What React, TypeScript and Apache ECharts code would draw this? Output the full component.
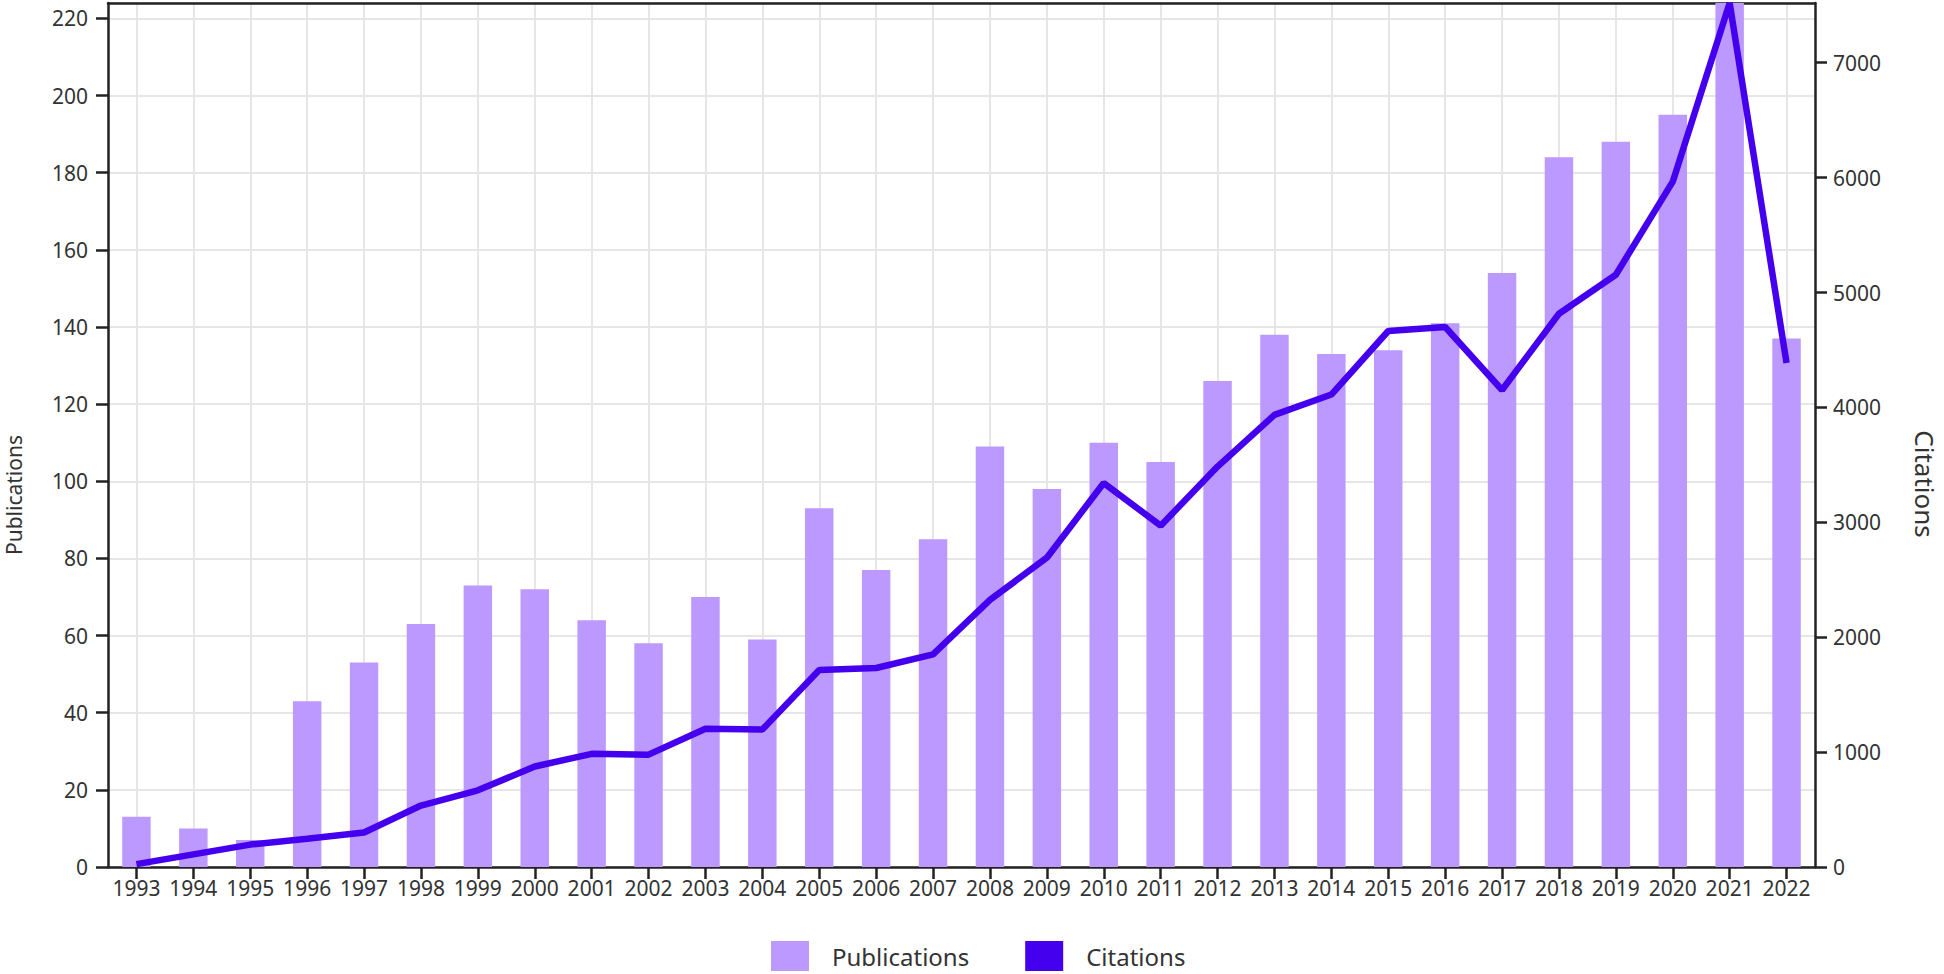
import React, { useEffect, useRef } from 'react';
import * as echarts from 'echarts';

const years = ['1993','1994','1995','1996','1997','1998','1999','2000','2001','2002','2003','2004','2005','2006','2007','2008','2009','2010','2011','2012','2013','2014','2015','2016','2017','2018','2019','2020','2021','2022'];
const publications = [13, 10, 7, 43, 53, 63, 73, 72, 64, 58, 70, 59, 93, 77, 85, 109, 98, 110, 105, 126, 138, 133, 134, 141, 154, 184, 188, 195, 224, 137];
const citations = [25, 110, 195, 245, 300, 535, 667, 875, 985, 978, 1203, 1197, 1715, 1732, 1850, 2325, 2692, 3342, 2971, 3485, 3935, 4112, 4665, 4700, 4152, 4815, 5155, 5965, 7520, 4386];
const leftAxisMax = 224;
const rightAxisMax = 7520;

export default function App() {
  const ref = useRef<HTMLDivElement>(null);
  useEffect(() => {
    document.body.style.margin = '0';
    const chart = echarts.init(ref.current!, null, { renderer: 'svg' });
    const font = '"Noto Sans", "Open Sans", sans-serif';
    const axisColor = '#222';
    const textColor = '#333';
    const axisLine = { show: true, onZero: false, lineStyle: { color: axisColor, width: 2.5 } };
    const axisTick = { show: true, length: 12, lineStyle: { color: axisColor, width: 2.5 } };
    chart.setOption({
      animation: false,
      grid: { left: 108, right: 129, top: 3, bottom: 107 },
      legend: {
        left: 766,
        top: 936,
        icon: 'rect',
        itemWidth: 38,
        itemHeight: 30,
        itemGap: 56,
        textStyle: { fontSize: 24, color: textColor, fontFamily: font, padding: [0, 0, 0, 18] },
        data: ['Publications', 'Citations'],
      },
      xAxis: [
        {
          type: 'category',
          data: years,
          position: 'bottom',
          boundaryGap: true,
          axisLine,
          axisTick: { ...axisTick, alignWithLabel: true },
          axisLabel: { color: textColor, fontSize: 21, fontFamily: font, margin: 10, interval: 0 },
          splitLine: { show: true, alignWithLabel: true, lineStyle: { color: '#e6e6e6', width: 2 } },
        },
        {
          type: 'category',
          data: years,
          position: 'top',
          boundaryGap: true,
          axisLine,
          axisTick: { show: false },
          axisLabel: { show: false },
          splitLine: { show: false },
        },
      ],
      yAxis: [
        {
          type: 'value',
          position: 'left',
          min: 0,
          max: leftAxisMax,
          interval: 20,
          axisLine,
          axisTick,
          axisLabel: { color: textColor, fontSize: 21, fontFamily: font, margin: 20, showMaxLabel: false },
          splitLine: { show: true, lineStyle: { color: '#e6e6e6', width: 2 } },
        },
        {
          type: 'value',
          position: 'right',
          min: 0,
          max: rightAxisMax,
          interval: 1000,
          axisLine,
          axisTick,
          axisLabel: {
            color: textColor,
            fontSize: 21,
            fontFamily: font,
            margin: 18,
            showMaxLabel: false,
            formatter: (v: number) => String(v),
          },
          splitLine: { show: false },
        },
      ],
      series: [
        {
          name: 'Publications',
          type: 'bar',
          data: publications,
          xAxisIndex: 0,
          yAxisIndex: 0,
          barWidth: '50%',
          itemStyle: { color: '#bb99ff' },
        },
        {
          name: 'Citations',
          type: 'line',
          data: citations,
          xAxisIndex: 0,
          yAxisIndex: 1,
          symbol: 'none',
          z: 3,
          lineStyle: { color: '#4400ee', width: 6.5 },
          itemStyle: { color: '#4400ee' },
        },
      ],
      graphic: [
        {
          type: 'text',
          x: 14,
          y: 495,
          rotation: Math.PI / 2,
          style: { text: 'Publications', fontSize: 21, fontFamily: font, fill: textColor, align: 'center', verticalAlign: 'middle' },
        },
        {
          type: 'text',
          x: 1925,
          y: 484,
          rotation: -Math.PI / 2,
          style: { text: 'Citations', fontSize: 26, fontFamily: font, fill: textColor, align: 'center', verticalAlign: 'middle' },
        },
      ],
    });
    return () => chart.dispose();
  }, []);
  return <div ref={ref} style={{ width: 1944, height: 974 }} />;
}
